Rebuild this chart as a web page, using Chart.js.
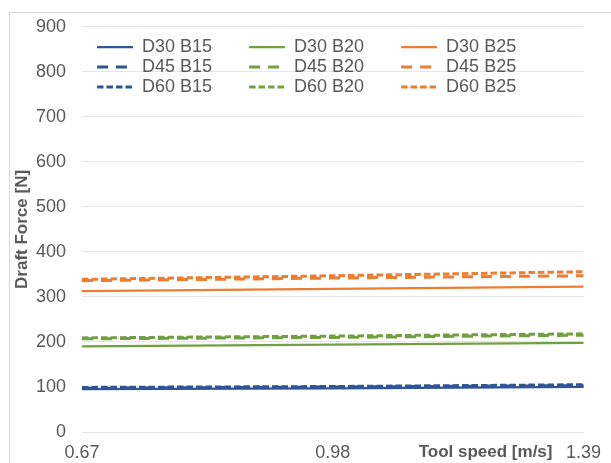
<!DOCTYPE html>
<html>
<head>
<meta charset="utf-8">
<script src="https://cdn.jsdelivr.net/npm/chart.js@4"></script>
<style>
  body { margin: 0; background: #fff; }
</style>
</head>
<body>
<canvas id="chart" width="611" height="463"></canvas>
<script>
// Du lieu doc tu hinh
var speeds = ['0.67', '0.98', '1.39'];
var yTicks = [0, 100, 200, 300, 400, 500, 600, 700, 800, 900];

var d30b15 = [95, 97, 100];
var d45b15 = [97, 100, 103];
var d60b15 = [99, 101, 105];
var d30b20 = [190, 194, 198];
var d45b20 = [207, 210, 215];
var d60b20 = [209, 213, 218];
var d30b25 = [313, 318, 323];
var d45b25 = [336, 342, 347];
var d60b25 = [339, 347, 356];

var yTitle = 'Draft Force [N]';
var xTitle = 'Tool speed [m/s]';

var blue = '#2f5597';
var green = '#70a040';
var orange = '#ed7d31';
var textColor = '#595959';

Chart.defaults.font.family = '"Liberation Sans", Arial, sans-serif';
Chart.defaults.color = textColor;

function line(label, values, color, dash) {
    return {
        label: label,
        data: values,
        borderColor: color,
        backgroundColor: color,
        borderWidth: dash.length ? 3 : 2.25,
        borderDash: dash,
        pointRadius: 0,
        tension: 0,
        fill: false
    };
}

var longDash = [11, 8];
var shortDash = [6.5, 3];

// khung xam quanh bieu do
var framePlugin = {
    id: 'frame',
    beforeDraw: function (chart) {
        var ctx = chart.ctx;
        ctx.save();
        ctx.strokeStyle = '#d9d9d9';
        ctx.lineWidth = 1;
        ctx.strokeRect(9.5, 12.5, 700, 600);
        ctx.restore();
    }
};

// dat chu giai vao trong vung ve (3 cot)
var legendPlace = {
    id: 'legendPlace',
    afterLayout: function (chart) {
        var lg = chart.legend;
        lg.left = 95;
        lg.right = 565;
        lg.top = 36;
        lg.bottom = 110;
        lg.width = lg.right - lg.left;
        lg.height = lg.bottom - lg.top;
    }
};

// tieu de truc x nam cung hang voi nhan
var xTitlePlugin = {
    id: 'xTitle',
    afterDraw: function (chart) {
        var ctx = chart.ctx;
        var x = chart.scales.x;
        ctx.save();
        ctx.font = 'bold 17px "Liberation Sans", Arial, sans-serif';
        ctx.fillStyle = textColor;
        ctx.textAlign = 'right';
        ctx.textBaseline = 'middle';
        ctx.fillText(xTitle, x.right - 31, x.top + 20);
        ctx.restore();
    }
};

var ctx = document.getElementById('chart').getContext('2d');
var myChart = new Chart(ctx, {
    type: 'line',
    data: {
        labels: speeds,
        datasets: [
            line('D30 B15', d30b15, blue, []),
            line('D30 B20', d30b20, green, []),
            line('D30 B25', d30b25, orange, []),
            line('D45 B15', d45b15, blue, longDash),
            line('D45 B20', d45b20, green, longDash),
            line('D45 B25', d45b25, orange, longDash),
            line('D60 B15', d60b15, blue, shortDash),
            line('D60 B20', d60b20, green, shortDash),
            line('D60 B25', d60b25, orange, shortDash)
        ]
    },
    options: {
        responsive: false,
        animation: false,
        layout: { padding: { left: 0, right: 23, top: 23, bottom: 0 } },
        plugins: {
            tooltip: { enabled: false },
            legend: {
                position: 'top',
                align: 'start',
                maxHeight: 0.001,
                labels: {
                    usePointStyle: true,
                    pointStyle: 'line',
                    pointStyleWidth: 36,
                    boxHeight: 18,
                    padding: 2,
                    color: textColor,
                    font: { size: 18 },
                    generateLabels: function (chart) {
                        var items = Chart.defaults.plugins.legend.labels.generateLabels(chart);
                        items.forEach(function (it) {
                            var ds = chart.data.datasets[it.datasetIndex];
                            it.text = it.text + '       ';
                            it.lineDash = ds.borderDash;
                            it.lineWidth = ds.borderWidth;
                            it.strokeStyle = ds.borderColor;
                            it.pointStyle = 'line';
                        });
                        return items;
                    }
                }
            }
        },
        scales: {
            x: {
                offset: false,
                grid: { display: false, drawTicks: false },
                border: { display: false },
                ticks: { color: textColor, font: { size: 18 }, padding: 10, maxRotation: 0, autoSkip: false },
                afterFit: function (scale) { scale.height = 31; }
            },
            y: {
                min: 0,
                max: 900,
                afterBuildTicks: function (scale) {
                    scale.ticks = yTicks.map(function (v) { return { value: v }; });
                },
                grid: { color: '#e6e6e6', lineWidth: 1, drawTicks: false },
                border: { display: false },
                ticks: { color: textColor, font: { size: 18 }, padding: 16 },
                title: {
                    display: true,
                    text: yTitle,
                    color: textColor,
                    font: { size: 17, weight: 'bold' },
                    padding: { top: 12, bottom: 0 }
                },
                afterFit: function (scale) { scale.width = 82; }
            }
        }
    },
    plugins: [framePlugin, legendPlace, xTitlePlugin]
});
</script>
</body>
</html>
